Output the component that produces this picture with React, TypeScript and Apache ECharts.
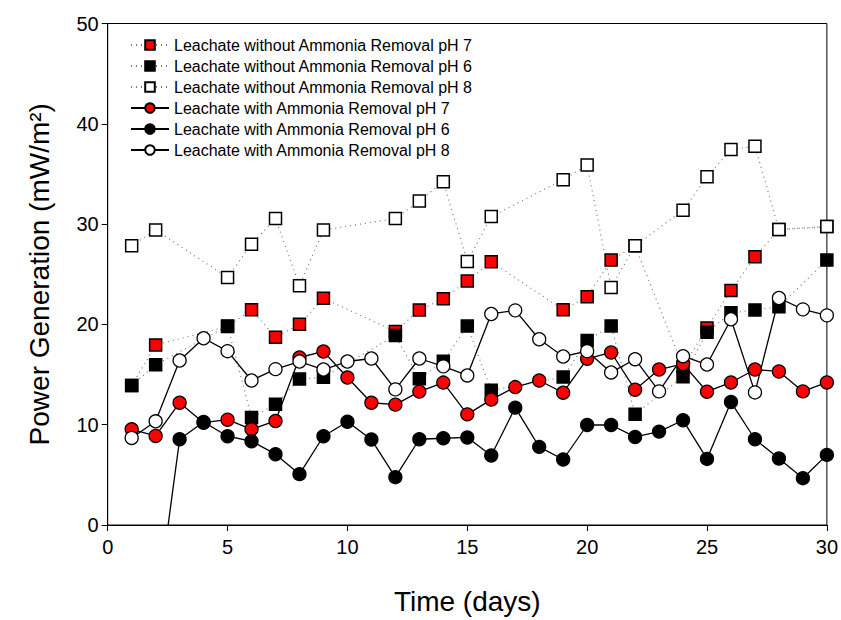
import React, { useEffect, useRef } from "react";
import * as echarts from "echarts";

// Days with square (without ammonia removal) measurements
const squareDays = [1, 2, 5, 6, 7, 8, 9, 12, 13, 14, 15, 16, 19, 20, 21, 22, 24, 25, 26, 27, 28, 30];
const withoutPH7 = [13.9, 17.95, 19.8, 21.45, 18.72, 20.01, 22.6, 19.3, 21.44, 22.55, 24.32, 26.24, 21.45, 22.75, 26.41, 27.83, 15.75, 19.65, 23.38, 26.75, 29.45, 29.75];
const withoutPH6 = [13.92, 15.97, 19.85, 10.72, 12.03, 14.55, 14.74, 18.9, 14.58, 16.32, 19.83, 13.43, 14.75, 18.4, 19.85, 11.05, 14.78, 19.22, 21.15, 21.44, 21.77, 26.41];
const withoutPH8 = [27.83, 29.42, 24.68, 28.0, 30.55, 23.86, 29.42, 30.55, 32.3, 34.23, 26.28, 30.75, 34.43, 35.88, 23.69, 27.83, 31.38, 34.72, 37.44, 37.77, 29.46, 29.75];

// Days with circle (with ammonia removal) measurements
const circleDays = [1, 2, 3, 4, 5, 6, 7, 8, 9, 10, 11, 12, 13, 14, 15, 16, 17, 18, 19, 20, 21, 22, 23, 24, 25, 26, 27, 28, 29, 30];
const withPH7 = [9.54, 8.88, 12.19, 10.2, 10.5, 9.54, 10.37, 16.7, 17.3, 14.7, 12.19, 12.0, 13.3, 14.2, 11.03, 12.5, 13.75, 14.41, 13.19, 16.57, 17.2, 13.49, 15.5, 16.07, 13.29, 14.21, 15.5, 15.31, 13.32, 14.21];
const withPH6 = [null, -9.3, 8.55, 10.27, 8.85, 8.35, 7.06, 5.07, 8.85, 10.3, 8.52, 4.77, 8.55, 8.65, 8.73, 6.93, 11.7, 7.79, 6.53, 9.97, 9.97, 8.78, 9.31, 10.44, 6.59, 12.26, 8.55, 6.63, 4.67, 6.99];
const withPH8 = [8.68, 10.34, 16.4, 18.62, 17.33, 14.41, 15.54, 16.3, 15.5, 16.3, 16.6, 13.52, 16.6, 15.82, 14.91, 21.04, 21.4, 18.52, 16.8, 17.33, 15.21, 16.53, 13.32, 16.83, 16.0, 20.51, 13.22, 22.63, 21.5, 20.9];

const seriesNames = [
  "Leachate without Ammonia Removal pH 7",
  "Leachate without Ammonia Removal pH 6",
  "Leachate without Ammonia Removal pH 8",
  "Leachate with Ammonia Removal pH 7",
  "Leachate with Ammonia Removal pH 6",
  "Leachate with Ammonia Removal pH 8",
];

const xTicks = [0, 5, 10, 15, 20, 25, 30];
const yTicks = [0, 10, 20, 30, 40, 50];

const FONT = "'Liberation Sans', Arial, sans-serif";

function pairs(days: number[], vals: (number | null)[]) {
  return days.map((d, i) => [d, vals[i]]);
}

export default function App() {
  const ref = useRef<HTMLDivElement>(null);
  useEffect(() => {
    if (!ref.current) return;
    const chart = echarts.init(ref.current, null, { renderer: "svg" });

    const squareSeries = (name: string, vals: number[], fill: string) => ({
      name,
      type: "line",
      data: pairs(squareDays, vals),
      symbol: "rect",
      symbolSize: 12,
      itemStyle: { color: fill, borderColor: "#000", borderWidth: 1.5 },
      lineStyle: { color: "#777", width: 1.2, type: [1, 4] },
      clip: true,
    });
    const circleSeries = (name: string, vals: (number | null)[], fill: string) => ({
      name,
      type: "line",
      data: pairs(circleDays, vals),
      symbol: "circle",
      symbolSize: 13,
      connectNulls: false,
      itemStyle: { color: fill, borderColor: "#000", borderWidth: 1.3 },
      lineStyle: { color: "#000", width: 1.3, type: "solid" },
      clip: true,
    });

    chart.setOption({
      animation: false,
      backgroundColor: "#fff",
      textStyle: { fontFamily: FONT },
      grid: {
        left: 107.7,
        right: 12.7,
        top: 23.5,
        bottom: 93.3,
        show: true,
        borderColor: "#000",
        borderWidth: 1,
      },
      legend: {
        orient: "vertical",
        left: 125,
        top: 32,
        itemWidth: 38,
        itemHeight: 12,
        itemGap: 5,
        textStyle: { fontSize: 16, color: "#000", fontFamily: FONT },
        data: seriesNames,
      },
      xAxis: {
        type: "value",
        min: xTicks[0],
        max: xTicks[xTicks.length - 1],
        interval: 5,
        name: "Time (days)",
        nameLocation: "middle",
        nameGap: 62,
        nameTextStyle: { fontSize: 28, color: "#000", fontFamily: FONT },
        axisLine: { show: true, lineStyle: { color: "#000", width: 1 } },
        axisTick: { show: true, inside: false, length: 6, lineStyle: { color: "#000" } },
        axisLabel: { fontSize: 20, color: "#000", margin: 12, fontFamily: FONT },
        splitLine: { show: false },
      },
      yAxis: {
        type: "value",
        min: yTicks[0],
        max: yTicks[yTicks.length - 1],
        interval: 10,
        name: "Power Generation (mW/m²)",
        nameLocation: "middle",
        nameRotate: 90,
        nameGap: 54,
        nameTextStyle: { fontSize: 28, color: "#000", fontFamily: FONT },
        axisLine: { show: true, lineStyle: { color: "#000", width: 1 } },
        axisTick: { show: true, inside: false, length: 6, lineStyle: { color: "#000" } },
        axisLabel: { fontSize: 20, color: "#000", margin: 9, fontFamily: FONT },
        splitLine: { show: false },
      },
      series: [
        squareSeries(seriesNames[0], withoutPH7, "#ff0000"),
        squareSeries(seriesNames[1], withoutPH6, "#000000"),
        squareSeries(seriesNames[2], withoutPH8, "#ffffff"),
        circleSeries(seriesNames[3], withPH7, "#ff0000"),
        circleSeries(seriesNames[4], withPH6, "#000000"),
        circleSeries(seriesNames[5], withPH8, "#ffffff"),
      ],
    });
    return () => chart.dispose();
  }, []);
  return (
    <div
      ref={ref}
      style={{ position: "absolute", left: 0, top: 0, width: 841, height: 620 }}
    />
  );
}
